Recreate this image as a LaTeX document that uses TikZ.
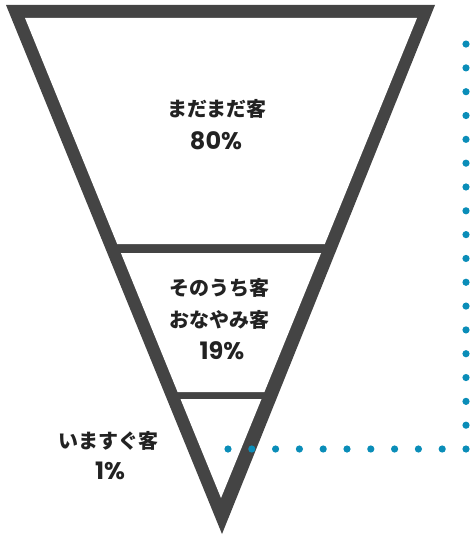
\documentclass[tikz,border=0pt]{standalone}
\usepackage{fontspec}
\newfontfamily\jp{Noto Sans CJK JP Black}
\newfontfamily\num{Poppins}
\definecolor{funnel}{HTML}{444444}
\definecolor{dotteal}{HTML}{0A8DB8}
\definecolor{txt}{HTML}{222222}
\begin{document}
\begin{tikzpicture}[x=1pt,y=-1pt,
  label/.style={font=\jp\fontsize{20}{20}\selectfont, text=txt, inner sep=0pt, anchor=center},
  pct/.style={font=\num\bfseries\fontsize{24}{24}\selectfont, text=txt, inner sep=0pt, anchor=center},
  dotmark/.style={fill=dotteal}]
\useasboundingbox (0,0) rectangle (469,535);
% funnel outline
\fill[funnel] (6,5) -- (435,5) -- (222,534) -- cycle;
\fill[white] (25,18) -- (417,18) -- (324.8,244) -- (117.2,244) -- cycle;
\fill[white] (120.9,253) -- (321.1,253) -- (264.4,392) -- (177.6,392) -- cycle;
\fill[white] (180.5,399) -- (261.5,399) -- (221,498) -- cycle;
% labels
\node[label] (t1) at (217,109) {まだまだ客};
\node[pct] (p1) at (216,140.5) {80\%};
\node[label] (t2) at (219.5,288) {そのうち客};
\node[label] (t3) at (219.5,320) {おなやみ客};
\node[pct] (p2) at (222,350.5) {19\%};
\node[label] (t4) at (108.7,441) {いますぐ客};
\node[pct] (p4) at (110,470.5) {1\%};
% dotted connector
\coordinate (dc) at (466,449);
\foreach \i in {0,...,10} \fill[dotmark] ([xshift=-23.8*\i pt]dc) circle (3.6pt);
\foreach \i in {1,...,17} \fill[dotmark] ([yshift=23.82*\i pt]dc) circle (3.6pt);
\end{tikzpicture}
\end{document}
